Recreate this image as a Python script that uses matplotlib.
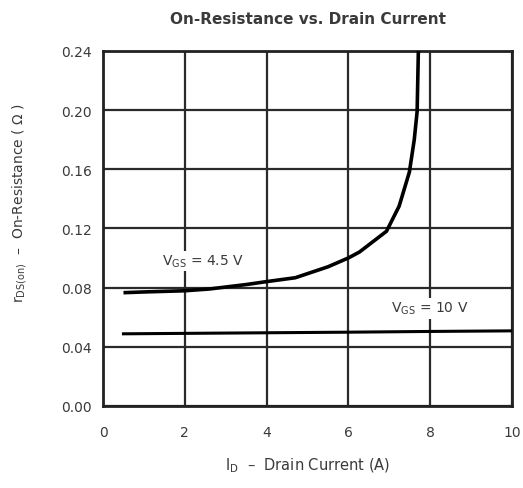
import numpy as np
import matplotlib.pyplot as plt

plt.rcParams['font.family'] = ['DejaVu Sans']

# On-resistance vs drain current, read per gate voltage
id_45 = [0.5, 1.0, 2.0, 2.6, 3.5, 4.0, 4.7, 5.5, 6.0, 6.27, 6.93, 7.24, 7.49, 7.61, 7.68, 7.71]
rds_45 = [0.0765, 0.077, 0.0778, 0.079, 0.082, 0.084, 0.0866, 0.094, 0.100, 0.104, 0.118, 0.135, 0.158, 0.180, 0.199, 0.240]

id_10 = [0.5, 2.0, 4.0, 6.0, 8.0, 10.0]
rds_10 = [0.0487, 0.0490, 0.0494, 0.0498, 0.0503, 0.0507]

xticks = [0, 2, 4, 6, 8, 10]
yticks = [0.00, 0.04, 0.08, 0.12, 0.16, 0.20, 0.24]

txt = '#3a3a3a'
fig = plt.figure(figsize=(5.23, 4.89), dpi=100)
ax = fig.add_axes([0.197, 0.168, 0.782, 0.726])

ax.plot(id_45, rds_45, color='black', lw=2.6, solid_capstyle='butt', zorder=3)
ax.plot(id_10, rds_10, color='black', lw=2.2, zorder=3)

ax.set_xlim(0, 10)
ax.set_ylim(0, 0.24)
ax.set_xticks(xticks)
ax.set_yticks(yticks)
ax.set_xticklabels([str(t) for t in xticks])
ax.set_yticklabels([f'{t:.2f}' for t in yticks])
ax.tick_params(axis='y', length=0, pad=8, labelsize=10, labelcolor=txt)
ax.tick_params(axis='x', length=0, pad=14, labelsize=10, labelcolor=txt)
ax.grid(True, color='#2a2a2a', lw=1.6)
for s in ax.spines.values():
    s.set_linewidth(2)
    s.set_color('#222222')

ax.text(2.45, 0.098, r'V$_{\mathregular{GS}}$ = 4.5 V', ha='center', va='center',
        fontsize=10, color=txt, zorder=4,
        bbox=dict(facecolor='white', edgecolor='none', pad=1.5))
ax.text(8.0, 0.066, r'V$_{\mathregular{GS}}$ = 10 V', ha='center', va='center',
        fontsize=10, color=txt, zorder=4,
        bbox=dict(facecolor='white', edgecolor='none', pad=1.5))

ax.set_title('On-Resistance vs. Drain Current', fontsize=11, fontweight='bold',
             color=txt, pad=20)
ax.set_xlabel(r'I$_{\mathregular{D}}$  –  Drain Current (A)', fontsize=10.5,
              color=txt, labelpad=12)
ax.set_ylabel(r'r$_{\mathregular{DS(on)}}$  –  On-Resistance ( Ω )', fontsize=10,
              color=txt)
ax.yaxis.set_label_coords(-0.18, 0.575)

fig.savefig('out.png', dpi=100)
